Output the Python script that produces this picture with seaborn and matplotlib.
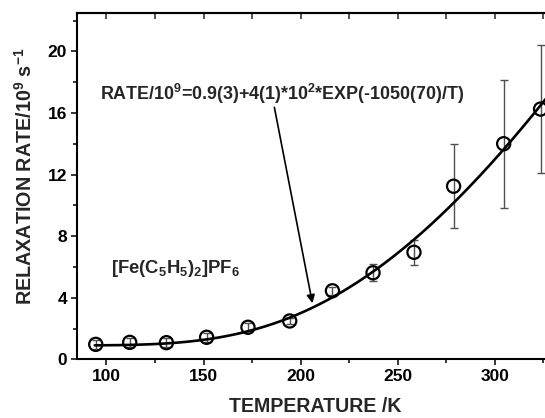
import numpy as np
import pandas as pd
import matplotlib
matplotlib.use("Agg")
import matplotlib.pyplot as plt
from matplotlib.ticker import MultipleLocator
import seaborn as sns

# Measured relaxation rates of [Fe(C5H5)2]PF6
temperature = [94.5, 112.0, 130.9, 151.6, 172.9, 194.4, 216.4, 237.3, 258.4, 278.8, 304.6, 323.6]
rate = [0.97, 1.10, 1.08, 1.43, 2.08, 2.49, 4.45, 5.62, 6.95, 11.24, 14.0, 16.25]
rate_err = [0.3, 0.3, 0.3, 0.3, 0.25, 0.2, 0.25, 0.55, 0.81, 2.74, 4.15, 4.17]

# Fit parameters: RATE/1e9 = A + B*exp(-Ea/T)
fit_a = 0.9
fit_b = 4e2
fit_ea = 1050.0
fit_range = [94.0, 327.0]

x_ticks = [100, 150, 200, 250, 300]
y_ticks = [0, 4, 8, 12, 16, 20]

sns.set_theme(style="ticks")
plt.rcParams["font.family"] = ["Liberation Sans", "DejaVu Sans"]
plt.rcParams["font.weight"] = "bold"
plt.rcParams["mathtext.default"] = "regular"

fig = plt.figure(figsize=(5.45, 4.18), dpi=100)
ax = fig.add_axes([77.3 / 545, (418 - 359.3) / 418, (553 - 77.3) / 545, (359.3 - 13.3) / 418])

t_fit = np.linspace(fit_range[0], fit_range[1], 300)
fit_df = pd.DataFrame({"T": t_fit, "rate": fit_a + fit_b * np.exp(-fit_ea / t_fit)})
sns.lineplot(data=fit_df, x="T", y="rate", ax=ax, color="black", linewidth=1.9, zorder=3)

ax.errorbar(temperature, rate, yerr=rate_err, fmt="none", ecolor="#505050",
            elinewidth=1.0, capsize=3.0, capthick=1.0, zorder=2)
pts = pd.DataFrame({"T": temperature, "rate": rate})
sns.scatterplot(data=pts, x="T", y="rate", ax=ax, marker="o", s=90,
                facecolor="none", edgecolor="black", linewidth=1.6, zorder=4)

ax.set_xlim(85, 330)
ax.set_ylim(0, 22.47)
ax.set_xticks(x_ticks)
ax.set_yticks(y_ticks)
ax.xaxis.set_minor_locator(MultipleLocator(25))
ax.yaxis.set_minor_locator(MultipleLocator(2))
ax.set_xlabel("")
ax.set_ylabel("")

for side in ["top", "bottom", "left", "right"]:
    ax.spines[side].set_linewidth(1.5)
    ax.spines[side].set_color("black")

ax.tick_params(axis="both", which="major", direction="out", length=4.3, width=1.1,
               labelsize=12.5, pad=3.0, colors="black")
ax.tick_params(axis="both", which="minor", direction="out", length=3.0, width=1.1, colors="black")
ax.tick_params(axis="x", which="both", top=False)
ax.tick_params(axis="y", which="both", right=False)
for lbl in ax.get_xticklabels() + ax.get_yticklabels():
    lbl.set_fontweight("bold")

top = ax.secondary_xaxis("top")
top.set_xticks(x_ticks)
top.xaxis.set_minor_locator(MultipleLocator(25))
top.tick_params(axis="x", which="both", direction="in", length=4.3, width=1.1, labeltop=False)
top.spines["top"].set_linewidth(1.5)

ax.text(96.5, 16.85, "RATE/10$^{9}$=0.9(3)+4(1)*10$^{2}$*EXP(-1050(70)/T)",
        fontsize=12.9, fontweight="bold", ha="left", va="baseline", zorder=5)
ax.annotate("", xy=(206.1, 3.64), xytext=(186.5, 16.36),
            arrowprops=dict(arrowstyle="-|>", color="black", lw=1.2,
                            mutation_scale=12, shrinkA=0, shrinkB=0))
ax.text(102.6, 5.58, "[Fe(C$_{5}$H$_{5}$)$_{2}$]PF$_{6}$",
        fontsize=13.3, fontweight="bold", ha="left", va="baseline")

fig.text(25 / 545, 1 - 176 / 418, "RELAXATION RATE/10$^{9}$ s$^{-1}$", rotation=90,
         fontsize=14.2, fontweight="bold", ha="center", va="center")
fig.text(315 / 545, 1.5 / 418, "TEMPERATURE /K", fontsize=14.1, fontweight="bold",
         ha="center", va="bottom")

fig.savefig("out.png", dpi=100)
